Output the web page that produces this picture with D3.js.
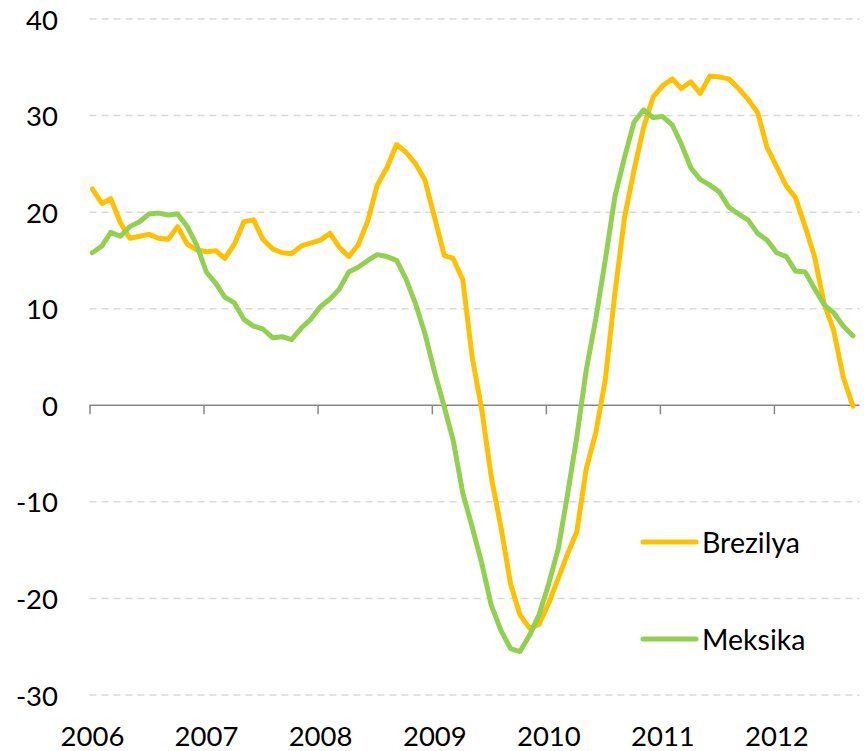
<!DOCTYPE html>
<html>
<head>
<meta charset="utf-8">
<script src="https://cdn.jsdelivr.net/npm/d3@7/dist/d3.min.js"></script>
<style>
html,body{margin:0;padding:0;background:#fff;}
svg{display:block;}
text{font-family:Lato,"Open Sans",sans-serif;fill:#000;}
</style>
</head>
<body>
<svg id="chart" width="864" height="751"></svg>
<script>
// ---- data ----
const startYear = 2006;
const startMonth = 0; // January
const brazil = [22.4,20.9,21.4,18.9,17.3,17.5,17.7,17.3,17.2,18.5,16.7,16.1,
  15.9,16.0,15.2,16.7,19.0,19.2,17.2,16.2,15.8,15.7,16.5,16.8,
  17.1,17.8,16.4,15.4,16.6,19.1,22.8,24.6,27.0,26.2,25.0,23.3,
  19.4,15.5,15.2,13.0,5.0,-0.5,-7.4,-12.6,-18.5,-21.7,-23.1,-22.7,
  -20.5,-17.9,-15.5,-13.1,-6.6,-2.8,2.6,11.6,19.5,24.3,28.8,31.9,
  33.1,33.8,32.8,33.5,32.3,34.1,34.0,33.8,32.8,31.7,30.3,26.7,
  24.7,22.7,21.5,18.5,15.4,10.5,7.8,2.9,-0.1];
const mexico = [15.8,16.5,17.9,17.5,18.5,19.0,19.8,19.9,19.7,19.8,18.5,16.6,
  13.8,12.6,11.2,10.6,8.9,8.2,7.9,7.0,7.1,6.8,8.0,8.9,
  10.2,11.0,12.0,13.8,14.3,15.0,15.6,15.4,15.0,13.1,10.5,7.4,
  3.4,-0.2,-3.6,-9.1,-12.6,-16.4,-20.7,-23.3,-25.2,-25.5,-23.8,-21.7,
  -18.5,-14.8,-9.5,-3.3,3.6,9.0,15.0,21.6,25.7,29.3,30.6,29.8,
  29.9,29.0,27.1,24.6,23.4,22.8,22.1,20.5,19.8,19.2,17.8,17.1,
  15.8,15.4,13.9,13.8,12.1,10.4,9.6,8.2,7.2];
const seriesNames = ["Brezilya","Meksika"];
const seriesColors = ["#FFC000","#92D050"];
const yTicks = [40,30,20,10,0,-10,-20,-30];
const xTickYears = [2006,2007,2008,2009,2010,2011,2012];

(function(){
// ---- layout ----
const svg = d3.select("#chart");
const pLeft = 89.5, pRight = 859.5, pTop = 19, pBottom = 695;

const x = d3.scaleTime()
  .domain([new Date(2006,0,1), new Date(2012,9,1)])
  .range([pLeft, pRight]);
const y = d3.scaleLinear().domain([-30,40]).range([pBottom, pTop]);

const dates = brazil.map((d,i) => new Date(startYear, startMonth + i, 10));

// gridlines
svg.append("g").selectAll("line")
  .data(yTicks.filter(d => d !== 0))
  .join("line")
  .attr("x1", pLeft).attr("x2", pRight)
  .attr("y1", d => y(d)).attr("y2", d => y(d))
  .attr("stroke", "#d9d9d9").attr("stroke-width", 1.5)
  .attr("stroke-dasharray", "7,5");

// y labels
svg.append("g").selectAll("text")
  .data(yTicks)
  .join("text")
  .attr("x", 58).attr("y", d => y(d))
  .attr("text-anchor", "end")
  .attr("dominant-baseline", "central")
  .attr("font-size", 27.5)
  .text(d => d);

// x axis line at 0
const xAxis = d3.axisBottom(x)
  .tickValues(xTickYears.map(yr => new Date(yr,0,1)))
  .tickSize(9)
  .tickFormat("");
const gx = svg.append("g").attr("transform", `translate(0,${y(0)})`).call(xAxis);
gx.select(".domain").attr("stroke", "#868686").attr("stroke-width", 1.5)
  .attr("d", `M${pLeft},0H${pRight}`);
gx.selectAll(".tick line").attr("stroke", "#868686").attr("stroke-width", 1.5);

// x labels at bottom
svg.append("g").selectAll("text")
  .data(xTickYears)
  .join("text")
  .attr("x", d => x(new Date(d,0,1)) + 3)
  .attr("y", 746)
  .attr("text-anchor", "middle")
  .attr("font-size", 27.5)
  .text(d => d);

// lines
const line = d3.line().x((d,i) => x(dates[i])).y(d => y(d));
[brazil, mexico].forEach((s, k) => {
  svg.append("path")
    .attr("d", line(s))
    .attr("fill", "none")
    .attr("stroke", seriesColors[k])
    .attr("stroke-width", 5)
    .attr("stroke-linejoin", "round")
    .attr("stroke-linecap", "round");
});

// legend
const legendY = [542, 639];
seriesNames.forEach((n, k) => {
  svg.append("line")
    .attr("x1", 643).attr("x2", 696)
    .attr("y1", legendY[k]).attr("y2", legendY[k])
    .attr("stroke", seriesColors[k]).attr("stroke-width", 5)
    .attr("stroke-linecap", "round");
  svg.append("text")
    .attr("x", 702).attr("y", legendY[k])
    .attr("dominant-baseline", "central")
    .attr("font-size", 28.5)
    .text(n);
});
})();
</script>
</body>
</html>
